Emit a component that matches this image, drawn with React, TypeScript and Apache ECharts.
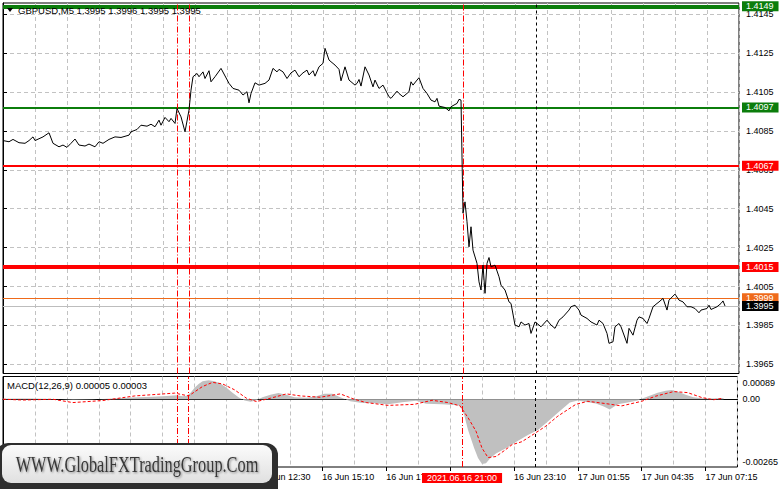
import React, { useEffect, useRef } from "react";
import * as echarts from "echarts";

// ---------- data ----------
const priceBars = [
  0, 3, 5, 8, 11, 13, 15, 16, 20, 23, 25, 28, 30, 32, 34, 36, 38, 41, 43, 46, 48, 50, 53, 56, 59, 63, 64, 67, 69, 72,
  74, 76, 78, 79, 81, 83, 84, 86, 87, 89, 91, 93, 94, 95, 97, 98, 100, 101, 103, 104, 106, 109, 113, 115, 118, 120,
  122, 123, 124, 126, 128, 131, 133, 135, 137, 138, 140, 142, 144, 146, 148, 150, 152, 153, 155, 156, 158, 160, 161,
  163, 164, 166, 168, 169, 171, 173, 176, 177, 178, 179, 181, 183, 185, 186, 188, 190, 193, 194, 197, 198, 200, 203,
  204, 205, 207, 208, 210, 212, 214, 216, 217, 218, 221, 223, 224, 227, 228, 229, 230, 231, 232, 233, 234, 235, 237,
  238, 239, 240, 241, 242, 243, 244, 246, 248, 249, 251, 253, 254, 256, 258, 259, 261, 263, 264, 266, 268, 269, 272,
  274, 276, 278, 280, 283, 284, 286, 288, 289, 292, 294, 297, 298, 300, 302, 303, 305, 306, 308, 309, 312, 313, 315,
  317, 318, 320, 322, 323, 325, 327, 328, 330, 332, 333, 336, 338, 340, 342, 344, 346, 348, 349, 352, 353, 354, 357,
  359, 360, 361,
];
const priceClose = [
  1.408, 1.40794, 1.40806, 1.40789, 1.40786, 1.408, 1.40819, 1.408, 1.40819, 1.4084, 1.40786, 1.40768, 1.40777,
  1.40765, 1.40786, 1.40808, 1.40777, 1.40772, 1.40782, 1.40768, 1.40794, 1.40786, 1.40806, 1.40819, 1.40816,
  1.40828, 1.40845, 1.40857, 1.40879, 1.40874, 1.40884, 1.40871, 1.40905, 1.40879, 1.40919, 1.40897, 1.40914,
  1.40888, 1.40965, 1.40922, 1.40845, 1.40957, 1.41059, 1.41128, 1.41145, 1.41128, 1.41153, 1.41119, 1.41159,
  1.41102, 1.41128, 1.41171, 1.41094, 1.41068, 1.41059, 1.41034, 1.41051, 1.40994, 1.41042, 1.41097, 1.41085,
  1.41094, 1.41111, 1.41171, 1.41153, 1.41166, 1.41153, 1.41119, 1.41148, 1.41162, 1.41128, 1.41148, 1.41162,
  1.41137, 1.41159, 1.41131, 1.41179, 1.41197, 1.41274, 1.41214, 1.41205, 1.41188, 1.41166, 1.41107, 1.41179,
  1.41111, 1.41085, 1.41094, 1.41114, 1.4108, 1.41179, 1.41137, 1.41076, 1.41111, 1.41068, 1.41085, 1.41025,
  1.41017, 1.41054, 1.41042, 1.41025, 1.41051, 1.41102, 1.41085, 1.41111, 1.41123, 1.41068, 1.41042, 1.41008,
  1.40999, 1.41017, 1.40977, 1.4097, 1.40953, 1.40974, 1.40991, 1.41012, 1.41008, 1.40427, 1.40485, 1.40383,
  1.40254, 1.40357, 1.40237, 1.40169, 1.40074, 1.40032, 1.4016, 1.40015, 1.40169, 1.40199, 1.40151, 1.4016, 1.401,
  1.40057, 1.40032, 1.39971, 1.39963, 1.39852, 1.39843, 1.39868, 1.39852, 1.3986, 1.39809, 1.39868, 1.39852,
  1.39843, 1.39877, 1.39852, 1.39835, 1.39877, 1.39894, 1.39929, 1.39946, 1.39954, 1.39929, 1.39903, 1.39886,
  1.39868, 1.39852, 1.39877, 1.3986, 1.39809, 1.39758, 1.39766, 1.39843, 1.3986, 1.39843, 1.39758, 1.39835, 1.398,
  1.39877, 1.39894, 1.39886, 1.3986, 1.39886, 1.39946, 1.39963, 1.39971, 1.39989, 1.39929, 1.3998, 1.40011, 1.3998,
  1.39971, 1.39946, 1.39946, 1.39937, 1.39915, 1.39929, 1.39937, 1.39954, 1.39932, 1.39946, 1.39963, 1.39976,
  1.3995,
];

const histBars = [
  0, 8, 15, 25, 35, 45, 55, 65, 75, 82, 87, 90, 92, 94, 96, 98, 100, 103, 106, 109, 112, 115, 118, 121, 124, 127,
  130, 134, 138, 142, 146, 152, 157, 161, 165, 169, 174, 180, 186, 193, 200, 207, 212, 220, 226, 229, 231, 233, 236,
  238, 240, 242, 244, 247, 252, 257, 263, 268, 273, 278, 284, 288, 293, 297, 301, 304, 308, 313, 318, 321, 324, 328,
  332, 335, 338, 342, 346, 350, 354, 358, 361,
];
const histValues = [
  0.00002, 0.00003, 0.00003, 0.00001, -0.00002, -0.00001, 0.00003, 0.00007, 0.0001, 0.00013, 0.00016, 0.00012,
  0.00014, 0.00025, 0.00045, 0.0006, 0.0007, 0.00074, 0.0007, 0.00062, 0.00045, 0.00025, 0.00008, -0.00005, -0.0001,
  -0.00004, 0.00008, 0.00018, 0.00024, 0.00018, 0.00008, 0.00006, 0.00012, 0.00022, 0.00022, 0.00008, -0.00008,
  -0.00015, -0.00016, -0.0002, -0.00012, -0.00006, -0.00018, -0.0002, -0.00022, -0.00025, -0.0006, -0.0012, -0.0019,
  -0.0023, -0.00253, -0.0025, -0.00232, -0.00212, -0.00192, -0.00167, -0.0014, -0.0012, -0.00087, -0.00053,
  -0.00013, -0.00005, -0.00012, -0.00017, -0.00028, -0.0004, -0.0002, -0.00013, -0.00005, 0.00005, 0.00014, 0.00025,
  0.00033, 0.00036, 0.0003, 0.00018, 0.00008, 0.00004, 0.00003, 0.00004, 0.00005,
];

const signalBars = [
  0, 10, 25, 35, 50, 66, 86, 93, 100, 105, 110, 116, 122, 127, 134, 142, 149, 159, 169, 176, 182, 193, 206, 215, 223,
  229, 233, 237, 240, 243, 247, 251, 255, 260, 265, 272, 278, 287, 293, 302, 310, 320, 327, 336, 343, 350, 356, 360,
];
const signalValues = [
  0, -0.00003, 0, -0.00013, -0.00005, 0.00013, 0.00024, 0.00013, 0.0005, 0.00066, 0.0006, 0.00037, 0.00004, -0.00009,
  0.00004, 0.00021, 0.00013, 0.00008, 0.00021, 0, -0.00013, -0.00024, -0.0002, -0.00004, -0.00013, -0.00026,
  -0.00072, -0.00125, -0.00191, -0.00228, -0.00224, -0.00202, -0.00178, -0.00166, -0.00141, -0.00105, -0.00066,
  -0.0002, -0.00008, -0.00017, -0.00026, -0.00008, 0.00012, 0.0003, 0.00026, 0.00007, -0.00002, 0.00003,
];

const priceTicks = [1.3965, 1.3985, 1.4005, 1.4025, 1.4045, 1.4065, 1.4085, 1.4105, 1.4125, 1.4145];
const macdTicks = [-0.00265, 0, 0.00089];
const tickBars = [0, 32, 64, 96, 128, 160, 192, 224, 256, 288, 320, 352];
const timeBars = [0, 32, 64, 96, 128, 160, 192, 256, 288, 320, 352];
const timeLabels = [
  "16 Jun 01:50", "16 Jun 04:30", "16 Jun 07:10", "16 Jun 09:50", "16 Jun 12:30", "16 Jun 15:10",
  "16 Jun 17:50", "16 Jun 23:10", "17 Jun 01:55", "17 Jun 04:35", "17 Jun 07:15",
];
const levelPrices = [1.4149, 1.4097, 1.4067, 1.4015, 1.3999, 1.3995];
const redVerticalBars = [87.2, 93, 230];
const blackVerticalBars = [266.5];
const crossBar = 230;
const crossLabel = "2021.06.16 21:00";
const symbolName = "GBPUSD,M5";
const headerOHLC = [1.3995, 1.3996, 1.3995, 1.3995];
const macdName = "MACD(12,26,9)";
const macdHeader = [0.00005, 0.00003];
const watermark = "WWW.GlobalFXTradingGroup.Com";

// ---------- styles ----------
const FONT = '"Liberation Sans", Arial, sans-serif';
const levelStyles = [
  { width: 4, box: "#0b7d0b", line: "#0b7d0b" },
  { width: 2, box: "#0b7d0b", line: "#0b7d0b" },
  { width: 2, box: "#ff0000", line: "#ff0000" },
  { width: 4, box: "#ff0000", line: "#ff0000" },
  { width: 1, box: "#ef6a1a", line: "#ef6a1a" },
  { width: 1, box: "#000000", line: "#bdbdbd" },
];
const gridLine = { color: "#c2c2c2", type: [4, 3] as number[], width: 1 };

export default function App() {
  const ref = useRef<HTMLDivElement>(null);
  useEffect(() => {
    if (!ref.current) return;
    const chart = echarts.init(ref.current, null, { renderer: "svg" });
    const xMin = 0;
    const xMax = 368;
    const pMin = 1.39603;
    const pMax = 1.41507;
    const mMin = macdTicks[0];
    const mMax = macdTicks[2];

    const verticals = (yMin: number, yMax: number, withLabel: boolean) => [
      ...redVerticalBars.map((b) => [
        {
          coord: [b, yMin],
          lineStyle: { color: "#ff0000", width: 1, type: [6, 2, 1, 2] },
          label:
            withLabel && b === crossBar
              ? {
                  show: true,
                  position: "start",
                  distance: 6,
                  formatter: crossLabel,
                  backgroundColor: "#ff0000",
                  color: "#fff",
                  fontSize: 9,
                  fontFamily: FONT,
                  lineHeight: 10,
                  padding: [0, 5, 0, 5],
                }
              : { show: false },
        },
        { coord: [b, yMax] },
      ]),
      ...blackVerticalBars.map((b) => [
        { coord: [b, yMin], lineStyle: { color: "#000", width: 1, type: [3, 3] }, label: { show: false } },
        { coord: [b, yMax] },
      ]),
    ];

    const levels = levelPrices.map((p, k) => ({
      yAxis: p,
      lineStyle: { color: levelStyles[k].line, width: levelStyles[k].width, type: "solid" },
      label: {
        show: true,
        position: "end",
        distance: 3,
        formatter: p.toFixed(4),
        backgroundColor: levelStyles[k].box,
        color: "#fff",
        fontSize: 9,
        fontFamily: FONT,
        lineHeight: 10,
        padding: [0, 5, 0, 4],
      },
    }));

    const option: any = {
      animation: false,
      backgroundColor: "#fff",
      textStyle: { fontFamily: FONT },
      grid: [
        { left: 3, top: 3, width: 736, height: 370.5, show: true, borderColor: "#000", borderWidth: 1 },
        { left: 3, top: 376.5, width: 736, height: 90.5, show: true, borderColor: "#000", borderWidth: 1 },
      ],
      xAxis: [
        {
          gridIndex: 0, type: "value", position: "bottom", min: xMin, max: xMax, interval: 16,
          axisLine: { show: false }, axisTick: { show: false }, axisLabel: { show: false },
          splitLine: { show: true, lineStyle: gridLine },
        },
        {
          gridIndex: 1, type: "value", position: "bottom", min: xMin, max: xMax, interval: 16,
          axisLine: { show: true, lineStyle: { color: "#000", width: 1 } },
          axisTick: { show: false },
          axisLabel: {
            show: true, align: "left", margin: 5, fontSize: 9, color: "#000", fontFamily: FONT,
            showMinLabel: true, showMaxLabel: true, hideOverlap: false,
            formatter: (v: number) => {
              const k = timeBars.findIndex((b) => Math.abs(b - v) < 1e-6);
              return k >= 0 ? timeLabels[k] : "";
            },
          },
          splitLine: { show: true, lineStyle: gridLine },
        },
        {
          gridIndex: 1, type: "value", position: "bottom", min: xMin, max: xMax,
          axisLine: { show: false },
          axisTick: { show: true, customValues: tickBars, length: 4, lineStyle: { color: "#000" } },
          axisLabel: { show: false },
          splitLine: { show: false },
        },
      ],
      yAxis: [
        {
          gridIndex: 0, type: "value", position: "right", min: pMin, max: pMax,
          axisLine: { show: true, lineStyle: { color: "#000", width: 1 } },
          axisTick: { show: true, customValues: priceTicks, length: 4, lineStyle: { color: "#000" } },
          axisLabel: {
            customValues: priceTicks, margin: 7, fontSize: 9, color: "#000", fontFamily: FONT,
            formatter: (v: number) => v.toFixed(4),
          },
          splitLine: { show: true, lineStyle: gridLine },
        },
        {
          gridIndex: 1, type: "value", position: "right", min: mMin, max: mMax,
          axisLine: { show: true, lineStyle: { color: "#000", width: 1 } },
          axisTick: { show: true, customValues: macdTicks, length: 4, lineStyle: { color: "#000" } },
          axisLabel: {
            customValues: macdTicks, margin: 5, fontSize: 9, color: "#000", fontFamily: FONT,
            formatter: (v: number) =>
              Math.abs(v - mMax) < 1e-9
                ? "{t|" + mMax.toFixed(5) + "}"
                : Math.abs(v - mMin) < 1e-9
                ? "{b|" + mMin.toFixed(5) + "}"
                : v.toFixed(2),
            rich: {
              t: { padding: [13, 0, 0, 0], fontSize: 9, fontFamily: FONT, color: "#000" },
              b: { padding: [0, 0, 11, 0], fontSize: 9, fontFamily: FONT, color: "#000" },
            },
          },
          splitLine: { show: false },
        },
      ],
      series: [
        {
          type: "line", xAxisIndex: 0, yAxisIndex: 0, z: 5,
          data: priceBars.map((b, k) => [b, priceClose[k]]),
          showSymbol: false, symbol: "none",
          lineStyle: { color: "#000", width: 1 },
          markLine: {
            silent: true, symbol: ["none", "none"], animation: false, precision: 6,
            data: [...levels, ...verticals(pMin, pMax, false)],
          },
        },
        {
          type: "line", xAxisIndex: 1, yAxisIndex: 1, z: 3,
          data: histBars.map((b, k) => [b, histValues[k]]),
          showSymbol: false, symbol: "none",
          lineStyle: { width: 0, color: "#c0c0c0" },
          areaStyle: { color: "#c0c0c0", opacity: 1 },
          markLine: {
            silent: true, symbol: ["none", "none"], animation: false, precision: 6,
            data: verticals(mMin, mMax, true),
          },
        },
        {
          type: "line", xAxisIndex: 1, yAxisIndex: 1, z: 4,
          data: signalBars.map((b, k) => [b, signalValues[k]]),
          showSymbol: false, symbol: "none",
          lineStyle: { color: "#ff0000", width: 1, type: [3, 2] },
        },
      ],
      graphic: [
        {
          type: "polygon", z: 50,
          shape: { points: [[7, 8], [13, 8], [10, 12]] },
          style: { fill: "#000" },
        },
        {
          type: "text", x: 18, y: 10, z: 50,
          style: {
            text: symbolName + " " + headerOHLC.map((v) => v.toFixed(4)).join(" "),
            fontSize: 9.5, fontFamily: FONT, fill: "#000", verticalAlign: "middle", align: "left",
          },
        },
        {
          type: "text", x: 7, y: 385, z: 50,
          style: {
            text: macdName + " " + macdHeader.map((v) => v.toFixed(5)).join(" "),
            fontSize: 9.5, fontFamily: FONT, fill: "#000", verticalAlign: "middle", align: "left",
          },
        },
        {
          type: "group", z: 100,
          children: [
            {
              type: "rect", z: 100,
              shape: { x: -4, y: 443, width: 282, height: 60, r: 12 },
              style: { fill: "#2e2e2e" },
            },
            {
              type: "rect", z: 101,
              shape: { x: 2, y: 445, width: 270, height: 38, r: 9 },
              style: {
                fill: new echarts.graphic.LinearGradient(0, 0, 0, 1, [
                  { offset: 0, color: "#fbfbfb" },
                  { offset: 1, color: "#e0e0e0" },
                ]),
              },
            },
            {
              type: "text", z: 102, x: 137, y: 464, scaleX: 0.71, originX: 0, originY: 0,
              style: {
                text: watermark, fontSize: 23, fontFamily: '"Liberation Serif", "Times New Roman", serif',
                fill: "#383838", align: "center", verticalAlign: "middle",
                textShadowColor: "rgba(0,0,0,0.45)", textShadowBlur: 2, textShadowOffsetX: 1, textShadowOffsetY: 1,
              },
            },
          ],
        },
      ],
    };
    chart.setOption(option);
    return () => chart.dispose();
  }, []);
  return (
    <div
      ref={ref}
      style={{ position: "fixed", left: 0, top: 0, width: 781, height: 489, background: "#fff" }}
    />
  );
}
